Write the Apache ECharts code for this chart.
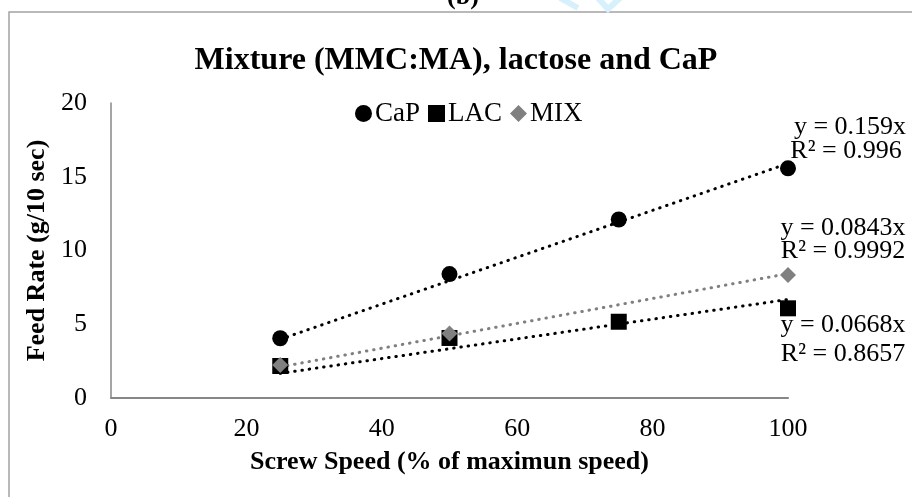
<!DOCTYPE html>
<html>
<head>
<meta charset="utf-8">
<script src="https://cdn.jsdelivr.net/npm/echarts@6/dist/echarts.min.js"></script>
<style>
    html, body { margin: 0; padding: 0; background: #fff; }
    #chart-feed { width: 912px; height: 497px; }
</style>
</head>
<body>
<div id="chart-feed"></div>
<script>
// screw speed (% of max) and feed rate (g/10 sec)
const speeds = [25, 50, 75, 100];
const capData = [4.05, 8.4, 12.1, 15.57];
const lacData = [2.17, 4.07, 5.17, 6.08];
const mixData = [2.24, 4.38, null, 8.34];

// trendline end points (x = 25 and x = 100)
const trendSpeeds = [25, 100];
const capTrend = [3.98, 15.9];
const lacTrend = [1.67, 6.68];
const mixTrend = [2.11, 8.43];

const xTicks = [0, 20, 40, 60, 80, 100];
const yTicks = [0, 5, 10, 15, 20];

const seriesNames = ['CaP', 'LAC', 'MIX'];
const equationLabels = [
    ['y = 0.159x', 'R² = 0.996'],
    ['y = 0.0843x', 'R² = 0.9992'],
    ['y = 0.0668x', 'R² = 0.8657']
];

;(function(global){

    const SERIF = '"Liberation Serif", "Times New Roman", serif';

    let feedChart = echarts.init(document.getElementById('chart-feed'));
    feedChart.setOption(initOption());

    function pairs(xs, ys){
        let out = [];
        for(let i = 0; i < xs.length; i++){
            if(ys[i] != null) out.push([xs[i], ys[i]]);
        }
        return out;
    }

    function trend(name, data, color){
        return {
            name: name,
            type: 'line',
            data: pairs(trendSpeeds, data),
            symbol: 'none',
            silent: true,
            z: 1,
            lineStyle: {color: color, width: 3, type: [0.5, 6.8], cap: 'round'}
        };
    }

    function eqText(text, x, y){
        return {
            type: 'text', x: x, y: y, z: 10,
            style: {text: text, fill: '#000', font: '26px ' + SERIF,
                    textAlign: 'center', textVerticalAlign: 'middle'}
        };
    }

    function initOption(){

        return ({
            animation: false,
            backgroundColor: '#fff',
            title: {
                text: 'Mixture (MMC:MA), lactose and CaP',
                left: 'center',
                top: 40,
                textStyle: {fontFamily: SERIF, fontSize: 32, fontWeight: 'bold', color: '#000'}
            },
            legend: {
                left: 355,
                top: 100,
                padding: 0,
                itemWidth: 17,
                itemHeight: 17,
                itemGap: 8,
                textStyle: {fontFamily: SERIF, fontSize: 27, color: '#000', padding: [0, 0, 0, -2]},
                data: [
                    {name: seriesNames[0], icon: 'circle'},
                    {name: seriesNames[1], icon: 'rect'},
                    {name: seriesNames[2], icon: 'diamond'}
                ]
            },
            grid: {left: 111, right: 124, top: 103, bottom: 99},
            xAxis: {
                type: 'value',
                min: xTicks[0],
                max: xTicks[xTicks.length - 1],
                interval: xTicks[1] - xTicks[0],
                name: 'Screw Speed (% of maximun speed)',
                nameLocation: 'middle',
                nameGap: 51,
                nameTextStyle: {fontFamily: SERIF, fontSize: 26, fontWeight: 'bold', color: '#000'},
                axisLine: {lineStyle: {color: '#878787', width: 2}},
                axisTick: {show: false},
                splitLine: {show: false},
                axisLabel: {fontFamily: SERIF, fontSize: 26, color: '#000', margin: 18}
            },
            yAxis: {
                type: 'value',
                min: yTicks[0],
                max: yTicks[yTicks.length - 1],
                interval: yTicks[1] - yTicks[0],
                name: 'Feed Rate (g/10 sec)',
                nameLocation: 'middle',
                nameGap: 56,
                nameTextStyle: {fontFamily: SERIF, fontSize: 26, fontWeight: 'bold', color: '#000'},
                axisLine: {show: true, lineStyle: {color: '#878787', width: 1.5}},
                axisTick: {show: false},
                splitLine: {show: false},
                axisLabel: {fontFamily: SERIF, fontSize: 26, color: '#000', margin: 24}
            },
            graphic: [
                {
                    type: 'rect', z: 0, silent: true,
                    shape: {x: 9, y: 12, width: 1100, height: 700},
                    style: {fill: 'none', stroke: '#a3a3a3', lineWidth: 1.5}
                },
                {
                    type: 'text', x: 463, y: 10, z: 10,
                    style: {text: '(b)', fill: '#000', font: 'bold 26px ' + SERIF,
                            textAlign: 'center', textVerticalAlign: 'bottom'}
                },
                {
                    type: 'polyline', z: 0, silent: true,
                    shape: {points: [[560, -2], [578, 8]]},
                    style: {stroke: '#d6f1fc', lineWidth: 6}
                },
                {
                    type: 'polyline', z: 0, silent: true,
                    shape: {points: [[598, -2], [608, 9], [620, -2]]},
                    style: {stroke: '#d6f1fc', lineWidth: 6, fill: 'none'}
                },
                eqText(equationLabels[0][0], 850, 127),
                eqText(equationLabels[0][1], 846, 151),
                eqText(equationLabels[1][0], 843, 228),
                eqText(equationLabels[1][1], 843, 251),
                eqText(equationLabels[2][0], 843, 325),
                eqText(equationLabels[2][1], 843, 354)
            ],
            series: [
                trend('CaP trend', capTrend, '#000'),
                trend('LAC trend', lacTrend, '#000'),
                trend('MIX trend', mixTrend, '#7f7f7f'),
                {
                    name: seriesNames[0],
                    type: 'scatter',
                    symbol: 'circle',
                    symbolSize: 16,
                    z: 3,
                    itemStyle: {color: '#000', opacity: 1},
                    data: pairs(speeds, capData)
                },
                {
                    name: seriesNames[1],
                    type: 'scatter',
                    symbol: 'rect',
                    symbolSize: 16,
                    z: 3,
                    itemStyle: {color: '#000', opacity: 1},
                    data: pairs(speeds, lacData)
                },
                {
                    name: seriesNames[2],
                    type: 'scatter',
                    symbol: 'diamond',
                    symbolSize: 16,
                    z: 4,
                    itemStyle: {color: '#808080', opacity: 1},
                    data: pairs(speeds, mixData)
                }
            ]
        });

    }

})(window);
</script>
</body>
</html>
